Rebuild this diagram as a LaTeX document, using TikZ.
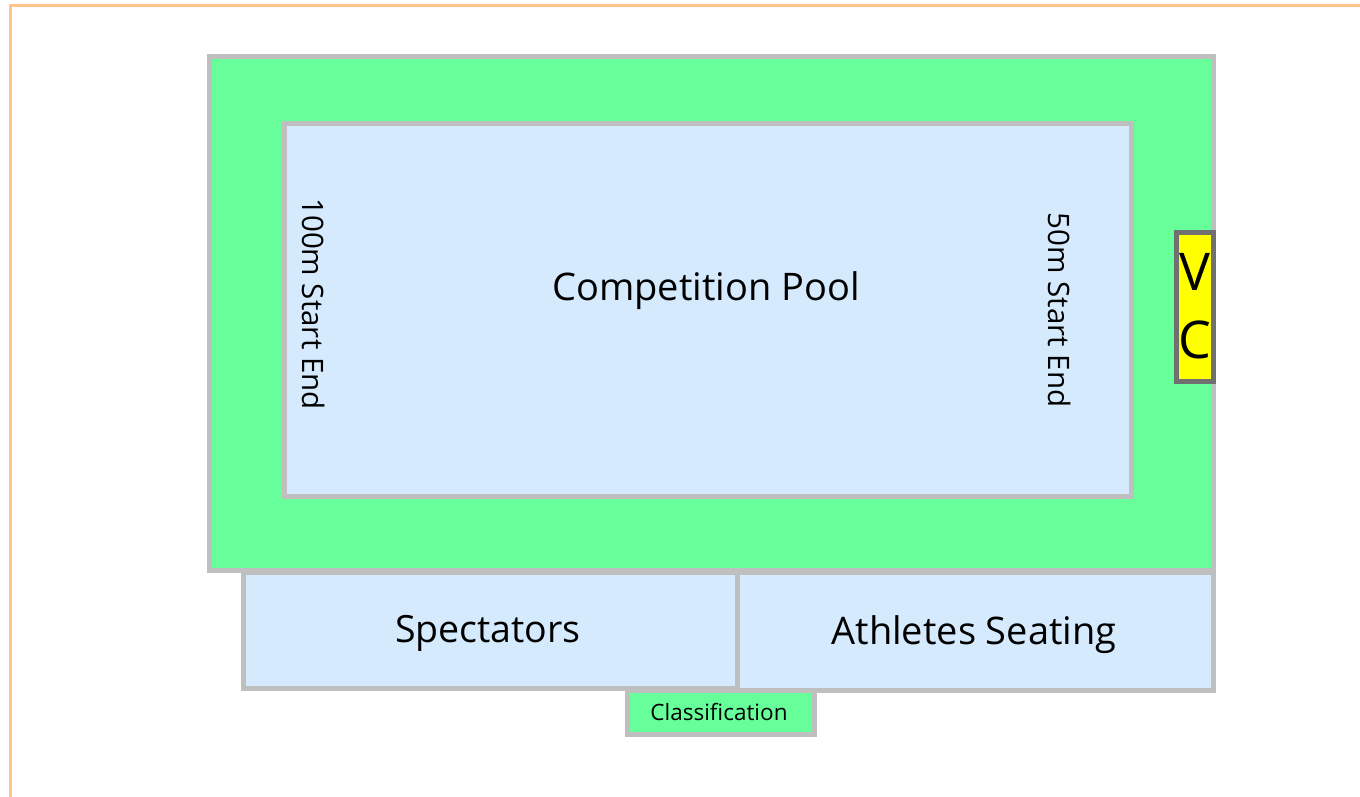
\documentclass[tikz,border=0pt]{standalone}
\usepackage{fontspec}
\setmainfont{Open Sans}
\definecolor{frameor}{HTML}{FFC38D}
\definecolor{grayb}{HTML}{BFBFBF}
\definecolor{darkb}{HTML}{707070}
\definecolor{greenf}{HTML}{66FF99}
\definecolor{bluef}{HTML}{D5EAFD}
\definecolor{yellowf}{HTML}{FFFF00}
\tikzset{
  zone/.style={draw=grayb, line width=5pt},
  lbl/.style={inner sep=0pt, text=black},
}
\begin{document}
\begin{tikzpicture}[x=1pt,y=-1pt]
\useasboundingbox (0,0) rectangle (1360,797);
\fill[white] (0,0) rectangle (1360,797);
% orange frame
\draw[frameor, line width=3.5pt] (10.5,797) -- (10.5,5.5) -- (1360,5.5);
% outer deck
\draw[zone, fill=greenf] (209.5,57) rectangle (1213,570);
% pool
\draw[zone, fill=bluef] (284,123.5) rectangle (1131,496);
% spectators and athletes
\draw[zone, fill=bluef] (243,572) rectangle (737.5,688.5);
\draw[zone, fill=bluef] (737.5,572) rectangle (1213,690);
% classification
\draw[zone, fill=greenf] (627,690) rectangle (814,734);
% VC
\draw[draw=darkb, line width=5pt, fill=yellowf] (1176,232) rectangle (1213.5,381);
% labels
\node[lbl, font=\fontsize{38}{42}\selectfont] (pool) at (706,291) {Competition Pool};
\node[lbl, font=\fontsize{29.5}{33}\selectfont, rotate=-90] (s100) at (314,304) {100m Start End};
\node[lbl, font=\fontsize{29.5}{33}\selectfont, rotate=-90] (s50) at (1060,310) {50m Start End};
\node[lbl, font=\fontsize{37.5}{42}\selectfont] (spec) at (488,633) {Spectators};
\node[lbl, font=\fontsize{38}{42}\selectfont] (ath) at (974,635) {Athletes Seating};
\node[lbl, font=\fontsize{22.5}{26}\selectfont] (cls) at (719,712) {Classification};
\node[lbl, font=\fontsize{52}{56}\selectfont] (v) at (1195,272) {V};
\node[lbl, font=\fontsize{52}{56}\selectfont] (c) at (1195,340) {C};
\end{tikzpicture}
\end{document}
